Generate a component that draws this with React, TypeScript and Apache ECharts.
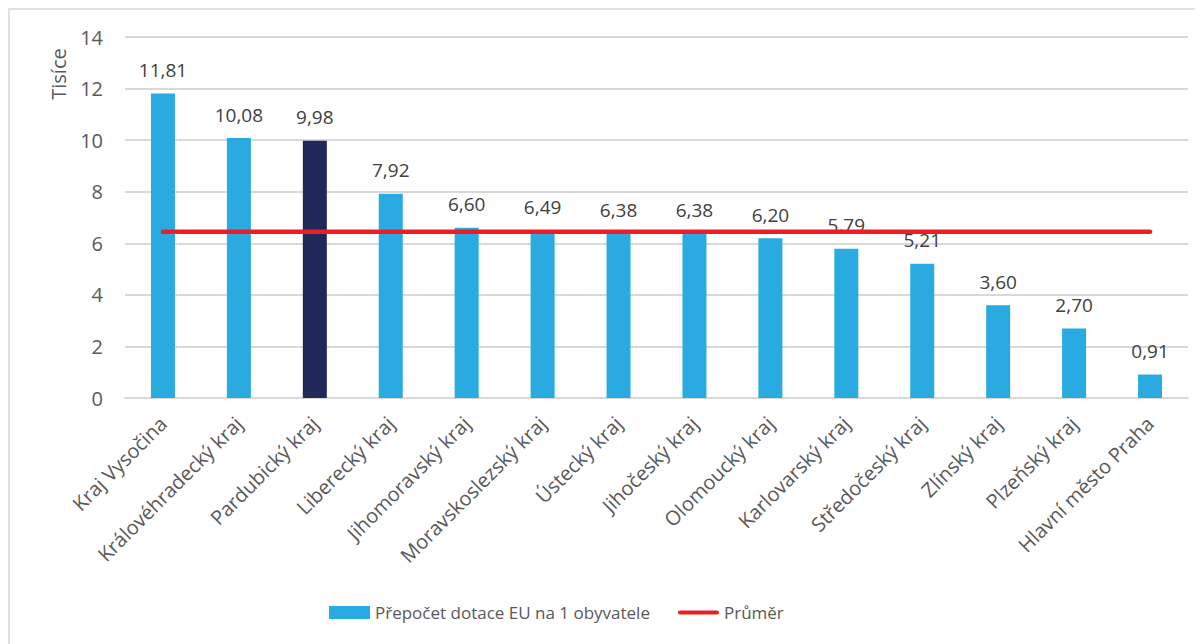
import React, { useEffect, useRef } from "react";
import * as echarts from "echarts";

const categories = [
  "Kraj Vysočina",
  "Královéhradecký kraj",
  "Pardubický kraj",
  "Liberecký kraj",
  "Jihomoravský kraj",
  "Moravskoslezský kraj",
  "Ústecký kraj",
  "Jihočeský kraj",
  "Olomoucký kraj",
  "Karlovarský kraj",
  "Středočeský kraj",
  "Zlínský kraj",
  "Plzeňský kraj",
  "Hlavní město Praha",
];
const values = [11.81, 10.08, 9.98, 7.92, 6.6, 6.49, 6.38, 6.38, 6.2, 5.79, 5.21, 3.6, 2.7, 0.91];
const highlighted = "Pardubický kraj";
const averageValue = 6.45;
const averageLine = categories.map(() => averageValue);
const barName = "Přepočet dotace EU na 1 obyvatele";
const lineName = "Průměr";
const axisTitle = "Tisíce";

const FONT = "'Open Sans', 'Noto Sans', sans-serif";

export default function App() {
  const ref = useRef<HTMLDivElement>(null);
  useEffect(() => {
    if (!ref.current) return;
    const chart = echarts.init(ref.current, undefined, { renderer: "svg" });
    chart.setOption({
      animation: false,
      textStyle: { fontFamily: FONT },
      grid: { left: 115, right: 15, top: 27, bottom: 246, containLabel: false },
      legend: {
        left: 314,
        top: 589,
        itemGap: 28,
        itemWidth: 41,
        itemHeight: 13,
        textStyle: { fontSize: 17, color: "#595959", fontFamily: FONT },
        data: [
          { name: barName, icon: "rect" },
          {
            name: lineName,
            icon: "path://M2,0 L39,0 A2,2 0 0 1 39,4 L2,4 A2,2 0 0 1 2,0 Z",
          },
        ],
      },
      graphic: [
        {
          type: "text",
          x: 48,
          y: 64,
          rotation: Math.PI / 2,
          style: {
            text: axisTitle,
            fontSize: 20,
            fill: "#595959",
            fontFamily: FONT,
            align: "center",
            verticalAlign: "middle",
          },
        },
      ],
      xAxis: {
        type: "category",
        data: categories,
        axisTick: { show: false },
        axisLine: { lineStyle: { color: "#d9d9d9", width: 2 } },
        axisLabel: {
          rotate: 45,
          interval: 0,
          margin: 22,
          fontSize: 20,
          color: "#595959",
          fontFamily: FONT,
        },
      },
      yAxis: {
        type: "value",
        min: 0,
        max: 14,
        interval: 2,
        axisLine: { show: false },
        axisTick: { show: false },
        splitLine: { lineStyle: { color: "#d9d9d9", width: 2 } },
        axisLabel: { fontSize: 20, color: "#595959", margin: 22, fontFamily: FONT },
      },
      series: [
        {
          name: barName,
          type: "bar",
          barWidth: 24,
          itemStyle: { color: "#29abe2" },
          data: values.map((v, i) =>
            categories[i] === highlighted
              ? { value: v, itemStyle: { color: "#1f2859" } }
              : v
          ),
          label: {
            show: true,
            position: "top",
            distance: 14,
            fontSize: 19,
            color: "#404040",
            fontFamily: FONT,
            formatter: (p: any) => Number(p.value).toFixed(2).replace(".", ","),
          },
          z: 2,
        },
        {
          name: lineName,
          type: "line",
          data: averageLine,
          symbol: "none",
          showSymbol: false,
          lineStyle: { color: "#ee1c25", width: 4.5, cap: "round" },
          itemStyle: { color: "#ee1c25" },
          z: 5,
        },
      ],
    });
    return () => chart.dispose();
  }, []);
  return (
    <div
      ref={ref}
      style={{
        width: 1193,
        height: 634,
        borderLeft: "2px solid #e0e0e0",
        borderTop: "2px solid #e0e0e0",
        background: "#fff",
      }}
    />
  );
}
